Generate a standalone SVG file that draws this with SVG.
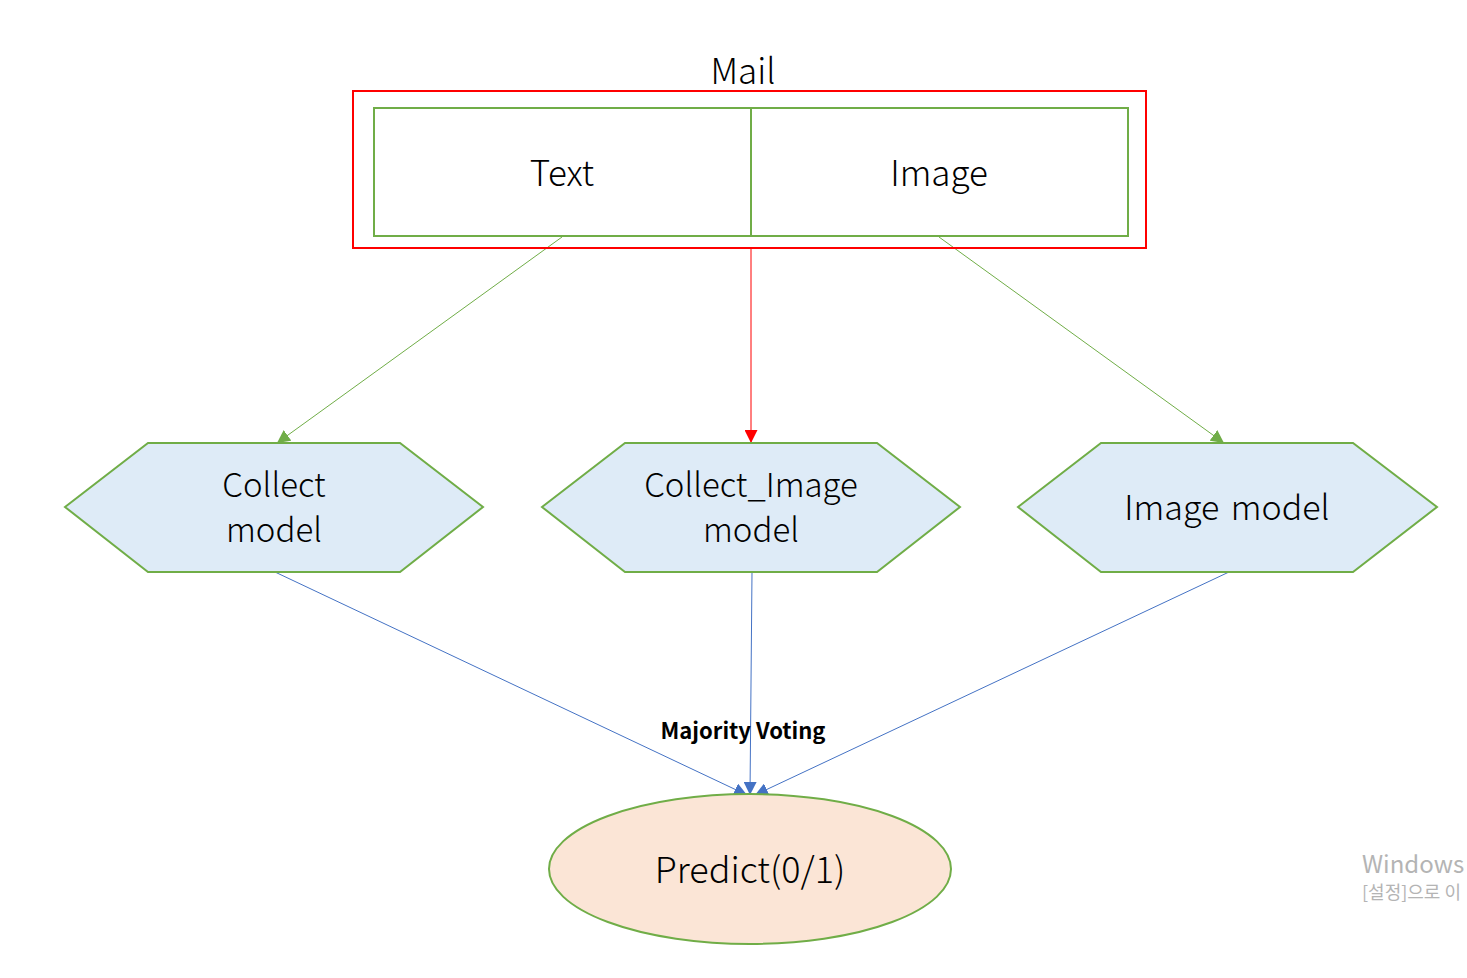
<svg xmlns="http://www.w3.org/2000/svg" width="1467" height="978" viewBox="0 0 1467 978">
<defs>
<style>
.t{font-family:"Noto Sans CJK KR","Noto Sans",sans-serif;fill:#000;text-anchor:middle;font-weight:300}
.hex{fill:#DEEBF7;stroke:#70AD47;stroke-width:2}
.g{stroke:#70AD47;stroke-width:1;fill:none}
.b{stroke:#4472C4;stroke-width:1;fill:none}
</style>
<marker id="ag" viewBox="0 0 10 10" refX="10" refY="5" markerWidth="13" markerHeight="13" markerUnits="userSpaceOnUse" orient="auto"><path d="M0,0L10,5L0,10z" fill="#70AD47"/></marker>
<marker id="ar" viewBox="0 0 10 10" refX="10" refY="5" markerWidth="13" markerHeight="13" markerUnits="userSpaceOnUse" orient="auto"><path d="M0,0L10,5L0,10z" fill="#FF0000"/></marker>
<marker id="ab" viewBox="0 0 10 10" refX="10" refY="5" markerWidth="13" markerHeight="13" markerUnits="userSpaceOnUse" orient="auto"><path d="M0,0L10,5L0,10z" fill="#4472C4"/></marker>
</defs>
<rect width="1467" height="978" fill="#fff"/>
<g id="connectors">
<line class="g" x1="562" y1="237" x2="277" y2="443" marker-end="url(#ag)"/>
<line x1="751" y1="249" x2="751" y2="443" stroke="#FF0000" stroke-width="1" marker-end="url(#ar)"/>
<line class="g" x1="939" y1="237" x2="1224" y2="443" marker-end="url(#ag)"/>
<line class="b" x1="275" y1="572" x2="747" y2="795" marker-end="url(#ab)"/>
<line class="b" x1="752" y1="572" x2="750" y2="795" marker-end="url(#ab)"/>
<line class="b" x1="1229" y1="572" x2="755" y2="795" marker-end="url(#ab)"/>
<text x="743" y="739" style="font-family:'Noto Sans CJK KR','Noto Sans',sans-serif;font-weight:bold;font-size:22px;text-anchor:middle">Majority Voting</text>
</g>
<g id="mail">
<rect x="353" y="91" width="793" height="157" fill="none" stroke="#FF0000" stroke-width="2"/>
<text class="t" x="743" y="84" font-size="35">Mail</text>
</g>
<g id="text-node">
<rect x="374" y="108" width="377" height="128" fill="none" stroke="#70AD47" stroke-width="2"/>
<text class="t" x="562" y="186" font-size="35">Text</text>
</g>
<g id="image-node">
<rect x="751" y="108" width="377" height="128" fill="none" stroke="#70AD47" stroke-width="2"/>
<text class="t" x="939" y="186" font-size="35">Image</text>
</g>
<g id="collect-model">
<polygon class="hex" points="65,507 148,443 400,443 483,507 400,572 148,572"/>
<text class="t" x="274" y="497" font-size="33">Collect</text>
<text class="t" x="274" y="542" font-size="33">model</text>
</g>
<g id="collect-image-model">
<polygon class="hex" points="542,507 625,443 877,443 960,507 877,572 625,572"/>
<text class="t" x="751" y="497" font-size="33">Collect_Image</text>
<text class="t" x="751" y="542" font-size="33">model</text>
</g>
<g id="image-model">
<polygon class="hex" points="1018,507 1101,443 1353,443 1437,507 1353,572 1101,572"/>
<text class="t" x="1227" y="520" font-size="34" word-spacing="4">Image model</text>
</g>
<g id="predict">
<ellipse cx="750" cy="869" rx="201" ry="75" fill="#FBE5D6" stroke="#70AD47" stroke-width="2"/>
<text class="t" x="750" y="883" font-size="36">Predict(0/1)</text>
</g>
<g id="watermark">
<text x="1362" y="873" style="font-family:'Noto Sans CJK KR','Noto Sans',sans-serif;font-size:24px;fill:#B4B4B4">Windows</text>
<text x="1362" y="899" style="font-family:'Noto Sans CJK KR','Noto Sans',sans-serif;font-size:18px;fill:#B4B4B4">[설정]으로 이</text>
</g>
</svg>
